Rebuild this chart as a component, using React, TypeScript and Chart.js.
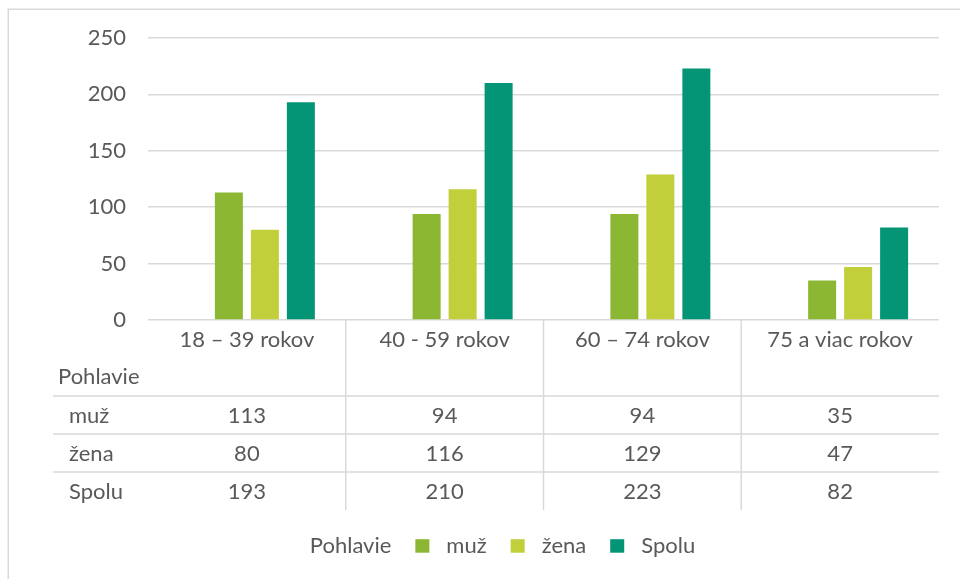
import React, { useEffect, useRef } from "react";
import { Chart, registerables } from "chart.js";

Chart.register(...registerables);

// ---- data ----
const categories = ["18 – 39 rokov", "40 - 59 rokov", "60 – 74 rokov", "75 a viac rokov"];
const headerLabel = "Pohlavie";
const pohlavie: (number | null)[] = [null, null, null, null];
const muz = [113, 94, 94, 35];
const zena = [80, 116, 129, 47];
const spolu = [193, 210, 223, 82];
const seriesNames = ["muž", "žena", "Spolu"];
const yTicks = [0, 50, 100, 150, 200, 250];

// ---- style ----
const FONT = "Lato, 'Noto Sans', sans-serif";
const TEXT = "#595959";
const LINE = "#D9D9D9";
const COLORS = ["#8BB733", "#C1CF3A", "#039575"];
const FS = 22;

const tablePlugin = {
  id: "dataTable",
  afterDraw(chart: any) {
    const ctx: CanvasRenderingContext2D = chart.ctx;
    const xs = chart.scales.x;
    const area = chart.chartArea;
    const b = area.bottom;
    ctx.save();

    // outer chart border
    ctx.strokeStyle = LINE;
    ctx.lineWidth = 1.5;
    ctx.strokeRect(8.25, 9.25, 1000, 700);

    const centers = categories.map((_, i) => xs.getPixelForValue(i));
    const half = (centers[1] - centers[0]) / 2;

    // table lines
    ctx.lineWidth = 1.5;
    ctx.strokeStyle = LINE;
    const rowLines = [b + 76, b + 114, b + 152];
    rowLines.forEach((y) => {
      ctx.beginPath();
      ctx.moveTo(53, y);
      ctx.lineTo(area.right, y);
      ctx.stroke();
    });
    for (let i = 1; i < centers.length; i++) {
      const x = centers[i] - half;
      ctx.beginPath();
      ctx.moveTo(x, b);
      ctx.lineTo(x, b + 190);
      ctx.stroke();
    }

    // texts
    ctx.fillStyle = TEXT;
    ctx.font = `${FS}px ${FONT}`;
    ctx.textBaseline = "alphabetic";
    ctx.textAlign = "center";
    categories.forEach((c, i) => ctx.fillText(c, centers[i], b + 26.5));

    ctx.textAlign = "left";
    ctx.fillText(headerLabel, 58, b + 64);

    const rows = [muz, zena, spolu];
    const rowBase = [b + 102.5, b + 140.5, b + 178.5];
    rows.forEach((vals, r) => {
      ctx.textAlign = "left";
      ctx.fillText(seriesNames[r], 69, rowBase[r]);
      ctx.textAlign = "center";
      vals.forEach((v, i) => ctx.fillText(String(v), centers[i], rowBase[r]));
    });

    // legend
    const ds = chart.data.datasets;
    const box = 14, gap = 17, spacing = 24;
    const widths = ds.map((d: any) => box + gap + ctx.measureText(d.label).width);
    const total = widths.reduce((a: number, w: number) => a + w, 0) + spacing * (ds.length - 1);
    let x = 487 - total / 2;
    const base = 552.7;
    ctx.textAlign = "left";
    ds.forEach((d: any, i: number) => {
      ctx.fillStyle = d.backgroundColor;
      ctx.fillRect(x, base - 13.5, box, 13.5);
      ctx.fillStyle = TEXT;
      ctx.fillText(d.label, x + box + gap, base);
      x += widths[i] + spacing;
    });

    ctx.restore();
  },
};

export default function App() {
  const ref = useRef<HTMLCanvasElement>(null);

  useEffect(() => {
    if (!ref.current) return;
    const chart = new Chart(ref.current, {
      type: "bar",
      data: {
        labels: categories,
        datasets: [
          { label: headerLabel, data: pohlavie, backgroundColor: "rgba(0,0,0,0)" },
          { label: seriesNames[0], data: muz, backgroundColor: COLORS[0] },
          { label: seriesNames[1], data: zena, backgroundColor: COLORS[1] },
          { label: seriesNames[2], data: spolu, backgroundColor: COLORS[2] },
        ],
      },
      options: {
        responsive: false,
        animation: false,
        events: [],
        datasets: {
          bar: { categoryPercentage: 0.728, barPercentage: 0.778 },
        },
        layout: { padding: { top: 38, right: 21, bottom: 259, left: 0 } },
        plugins: {
          legend: { display: false },
          tooltip: { enabled: false },
          title: { display: false },
        },
        scales: {
          x: {
            grid: { display: false },
            border: { display: false },
            ticks: { display: false },
            afterFit: (s: any) => {
              s.height = 0;
            },
          },
          y: {
            min: 0,
            max: 250,
            afterBuildTicks: (s: any) => {
              s.ticks = yTicks.map((v) => ({ value: v }));
            },
            grid: { color: LINE, lineWidth: 1.5, drawTicks: false },
            border: { display: false },
            ticks: {
              padding: 22,
              color: TEXT,
              font: { family: FONT, size: FS },
            },
            afterFit: (s: any) => {
              s.width = 148;
            },
          },
        },
      },
      plugins: [tablePlugin],
    });
    return () => chart.destroy();
  }, []);

  return (
    <div style={{ position: "fixed", left: 0, top: 0, width: 960, height: 579, background: "#fff" }}>
      <canvas ref={ref} width={960} height={579} style={{ display: "block" }} />
    </div>
  );
}
